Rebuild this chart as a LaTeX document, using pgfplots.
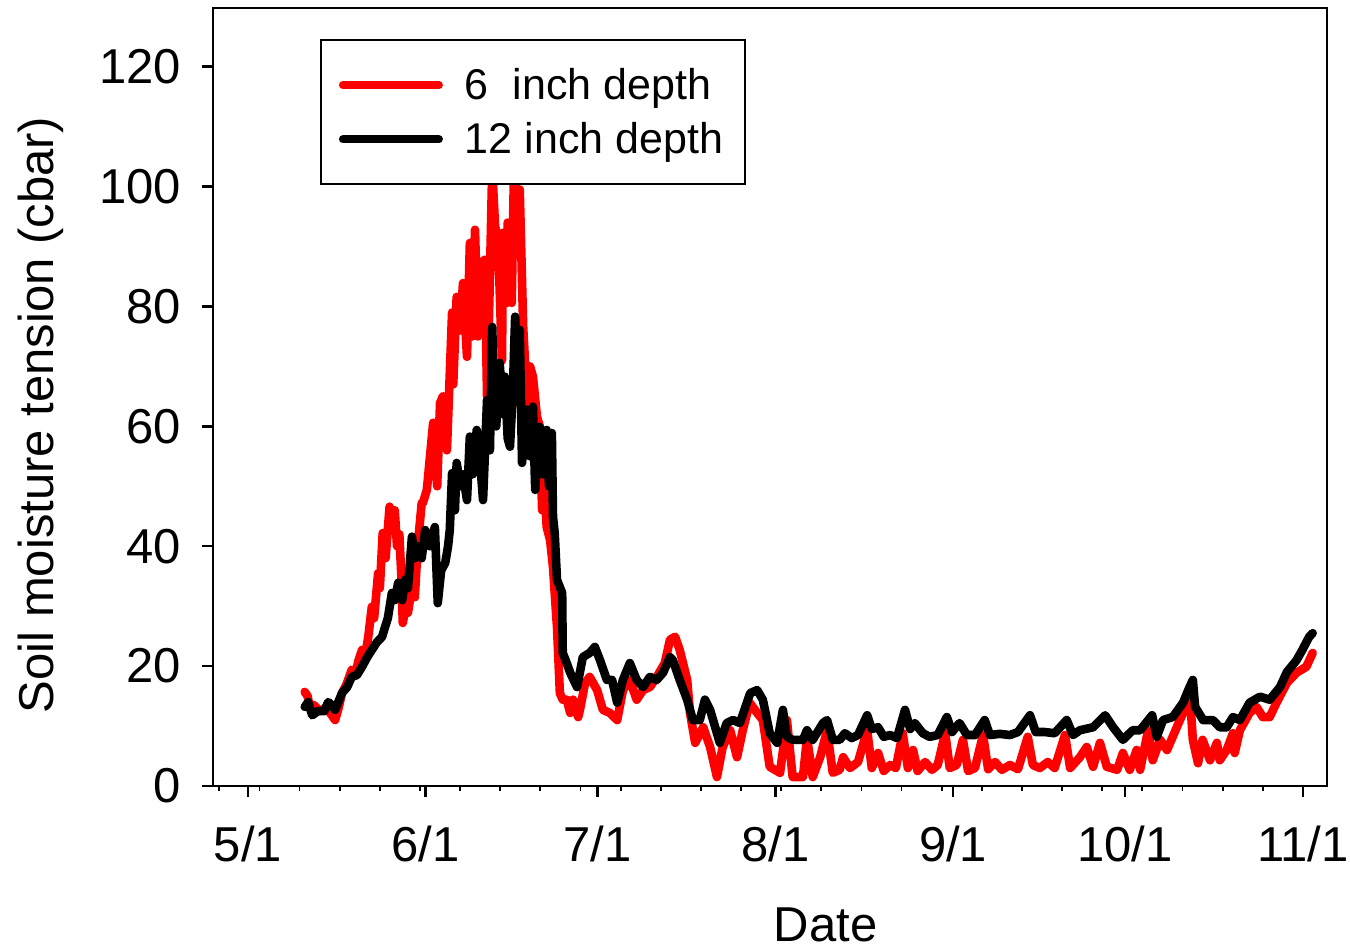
\documentclass[border=0pt]{standalone}
\usepackage{fontspec}
\setmainfont{Liberation Sans}
\usepackage{pgfplots}
\pgfplotsset{compat=1.18}
\newcommand{\bigfont}{\fontsize{24.5}{29}\selectfont}
\newcommand{\legfont}{\fontsize{21.5}{26}\selectfont}
\begin{document}
\begin{tikzpicture}
\begin{axis}[name=ax,
  scale only axis, width=557pt, height=389pt,
  xmin=-6.1, xmax=188.2, ymin=0, ymax=129.8,
  xtick={0,31,61,92,123,153,184},
  xticklabels={5/1,6/1,7/1,8/1,9/1,10/1,11/1},
  minor xtick={-5,2,...,184},
  ytick={0,20,...,120},
  tick pos=left, tick align=outside,
  major tick length=5.5pt, minor tick length=2.5pt,
  axis line style={line width=1.25pt},
  major tick style={line width=1.25pt, black},
  minor tick style={line width=0.9pt, black},
  /pgf/number format/assume math mode=true,
  tick label style={font=\bigfont},
  xticklabel style={yshift=-11pt},
  yticklabel style={xshift=-7pt},
  xlabel={Date}, ylabel={Soil moisture tension (cbar)},
  every axis x label/.style={at={(axis description cs:0.55,-0.179)}, anchor=center, inner sep=0pt, font=\bigfont},
  every axis y label/.style={at={(axis description cs:-0.155,0.477)}, rotate=90, anchor=center, font=\bigfont},
  legend style={at={(axis description cs:0.096,0.960)}, anchor=north west,
    draw=black, line width=1pt, fill=white, font=\legfont,
    inner xsep=9pt, inner ysep=12pt, row sep=6pt,
    /tikz/every odd column/.append style={column sep=9pt}},
  legend cell align=left,
  legend image code/.code={\draw[#1, line width=4pt, line cap=round] (0pt,0pt) -- (48pt,0pt);},
  every axis plot/.append style={line width=4.3pt, line join=round, line cap=round},
]
% 6 inch depth
\addplot[red] coordinates {
(9.9,15.7)(10.4,15.0)(10.8,13.0)(11.5,13.5)(12.5,12.5)(13.5,13.0)(14.5,12.0)(15.2,11.0)
(15.8,13.0)(16.4,15.5)(17.2,17.0)(18.1,19.4)(18.8,19.0)(19.3,21.0)(19.9,22.7)(20.5,22.0)
(21.0,25.0)(21.6,29.9)(22.0,28.0)(22.7,35.5)(23.0,33.0)(23.5,42.2)(24.0,38.0)(24.7,46.6)
(25.1,44.0)(25.6,46.0)(26.0,40.0)(26.4,42.0)(26.8,34.0)(27.0,27.2)(27.5,30.0)(27.9,28.9)
(28.4,32.0)(29.1,31.5)(29.6,40.0)(30.3,47.2)(30.5,47.2)(31.2,49.4)(32.3,60.6)(33.0,50.0)
(33.5,63.9)(34.0,65.0)(34.7,56.0)(35.6,79.0)(35.8,67.0)(36.4,81.6)(37.0,76.0)(37.5,83.9)
(38.2,71.6)(38.7,90.6)(39.1,75.0)(39.6,92.8)(40.1,75.0)(40.8,87.3)(41.3,87.8)(41.7,65.0)
(42.2,85.0)(42.6,103.0)(43.1,93.3)(43.6,91.6)(44.3,71.0)(44.5,92.3)(45.2,80.6)(45.3,94.0)
(46.0,80.6)(46.4,103.0)(46.9,98.0)(47.4,99.5)(48.0,76.6)(48.7,63.9)(49.2,70.0)(49.7,68.3)
(50.4,61.6)(50.9,60.0)(51.3,46.0)(51.6,52.0)(52.1,43.2)(52.7,41.0)(53.2,36.5)(53.9,26.5)
(54.4,15.5)(54.9,14.4)(55.6,14.4)(56.2,12.2)(56.7,14.4)(57.6,11.5)(57.9,12.7)(58.8,17.2)
(59.6,18.2)(60.9,16.0)(61.9,12.7)(63.1,12.2)(64.4,11.0)(65.4,16.0)(66.6,17.7)(67.8,14.4)
(68.9,16.0)(70.1,16.5)(71.3,18.2)(72.7,20.5)(73.6,24.4)(74.5,24.9)(75.3,22.7)(76.6,17.7)
(77.1,12.2)(78.0,7.2)(79.4,9.8)(80.6,6.5)(81.8,1.5)(82.8,6.5)(84.1,9.3)(85.3,4.8)
(86.3,9.3)(87.5,13.9)(88.8,12.2)(89.8,11.0)(91.0,3.2)(92.8,2.2)(94.0,11.0)(95.0,1.5)
(96.8,1.5)(97.5,8.0)(98.5,1.5)(99.8,4.8)(101.0,9.3)(102.0,2.2)(103.2,2.7)(103.8,4.8)
(105.0,3.0)(106.4,4.0)(108.0,9.3)(108.8,3.0)(109.9,5.5)(110.9,2.5)(112.0,3.5)(113.0,3.0)
(114.2,8.8)(115.1,3.0)(116.0,6.0)(116.8,2.5)(118.1,4.0)(119.3,2.7)(120.3,3.5)(121.6,8.8)
(122.4,3.0)(123.6,3.5)(124.7,7.7)(125.6,2.5)(126.8,3.0)(128.2,8.5)(129.1,2.8)(130.3,4.0)
(131.5,2.7)(132.9,3.5)(134.3,2.8)(136.0,8.2)(136.9,3.5)(138.1,3.0)(139.5,4.0)(140.7,3.0)
(142.5,8.5)(143.4,3.0)(145.1,4.8)(146.3,6.5)(147.4,3.2)(148.6,7.2)(149.8,3.2)(151.6,2.7)
(152.6,5.5)(153.8,2.7)(155.0,6.0)(155.6,2.7)(157.0,9.3)(157.8,4.3)(159.1,7.7)(160.3,6.0)
(162.0,9.8)(163.1,12.2)(164.3,14.9)(164.8,7.7)(165.7,3.8)(166.5,7.7)(167.8,4.3)(169.0,7.2)
(169.5,4.3)(170.7,6.0)(171.8,8.8)(172.1,5.5)(173.0,9.3)(174.7,12.2)(175.9,13.2)(177.0,11.5)
(178.2,11.5)(179.4,13.9)(181.2,17.2)(182.9,18.9)(184.6,19.9)(185.7,22.2)
};
\addlegendentry{6\ \ inch depth}
% 12 inch depth
\addplot[black] coordinates {
(9.9,13.2)(10.5,14.0)(11.2,11.8)(12.2,12.5)(13.3,12.5)(14.0,14.0)(14.6,13.5)(15.2,12.7)
(16.4,15.5)(17.3,16.5)(18.1,18.2)(19.0,18.5)(19.9,19.9)(20.8,21.5)(21.6,22.7)(22.5,24.0)
(23.4,24.9)(23.9,26.5)(24.4,28.0)(25.1,32.2)(25.6,31.0)(26.2,33.9)(26.9,31.0)(27.4,34.4)
(27.9,33.0)(28.6,41.6)(29.1,38.0)(29.6,40.0)(30.3,38.0)(30.9,42.7)(31.7,40.0)(32.6,43.2)
(33.1,30.5)(33.7,36.0)(34.4,37.2)(34.9,40.0)(35.2,42.7)(35.6,52.2)(36.1,46.0)(36.4,53.9)
(37.0,50.0)(37.5,52.0)(38.2,47.7)(38.7,58.3)(39.2,52.0)(39.9,59.4)(40.5,54.0)(41.0,47.7)
(41.7,64.4)(42.2,56.0)(42.6,76.6)(42.8,69.4)(43.3,60.0)(43.9,70.6)(44.5,62.0)(44.8,68.3)
(45.3,58.0)(45.7,56.6)(46.2,66.0)(46.6,78.3)(47.1,65.0)(47.4,76.1)(47.8,53.9)(48.3,60.0)
(48.7,62.8)(49.2,55.0)(49.7,63.3)(50.1,49.4)(50.6,58.0)(50.9,59.9)(51.4,52.0)(52.1,59.4)
(52.5,50.0)(53.0,58.9)(53.2,44.9)(53.5,42.2)(53.9,34.4)(54.8,32.2)(54.9,22.2)(55.6,20.5)
(56.2,18.9)(57.4,16.5)(58.4,21.5)(59.6,22.2)(60.5,23.2)(61.4,21.0)(62.6,17.7)(63.5,17.7)
(64.4,13.9)(65.4,17.7)(66.6,20.5)(67.8,17.7)(68.9,16.5)(70.1,18.2)(71.3,17.7)(72.4,18.9)
(73.6,21.5)(74.1,21.0)(75.3,17.7)(76.6,14.4)(77.6,11.0)(78.8,11.0)(79.7,14.4)(80.6,12.7)
(81.8,8.8)(82.3,7.2)(83.5,10.5)(84.6,11.0)(85.8,10.5)(87.6,15.5)(88.8,16.0)(89.8,14.4)
(91.0,8.8)(92.3,7.2)(93.3,12.7)(94.0,8.2)(95.0,7.7)(96.8,7.7)(97.5,9.3)(98.5,7.7)
(100.3,10.5)(101.0,11.0)(102.0,7.7)(103.2,7.7)(104.1,8.8)(105.3,8.0)(106.4,8.5)(108.0,11.8)
(108.8,9.5)(109.9,9.8)(110.9,8.2)(112.0,8.5)(113.2,8.0)(114.6,12.7)(115.5,9.5)(116.3,10.5)
(117.7,8.8)(118.9,8.2)(120.3,8.5)(121.9,11.5)(122.8,9.0)(124.1,10.5)(125.4,8.5)(126.8,8.5)
(128.5,11.0)(129.4,8.5)(131.1,8.7)(132.9,8.5)(134.3,9.0)(136.4,11.8)(137.4,9.0)(139.0,9.0)
(140.7,8.8)(142.8,11.0)(143.9,8.5)(145.1,9.3)(147.4,9.8)(149.5,11.8)(150.9,9.8)(152.6,7.7)
(154.3,9.3)(155.6,9.3)(157.7,11.8)(158.5,8.2)(159.6,11.0)(161.3,11.5)(163.1,13.9)(164.0,16.0)
(164.8,17.7)(165.2,13.2)(166.6,11.0)(168.3,11.0)(169.5,9.8)(170.7,9.8)(171.8,11.5)(173.0,11.0)
(174.7,13.9)(176.5,14.9)(178.2,14.4)(180.0,16.5)(181.2,19.0)(182.9,21.0)(183.9,22.7)(185.1,24.9)
(185.7,25.5)
};
\addlegendentry{12 inch depth}
\end{axis}
\pgfresetboundingbox
\path[use as bounding box] ([shift={(-106.5pt,-82.5pt)}]ax.south west) rectangle ([shift={(11.5pt,4pt)}]ax.north east);
\end{tikzpicture}
\end{document}
